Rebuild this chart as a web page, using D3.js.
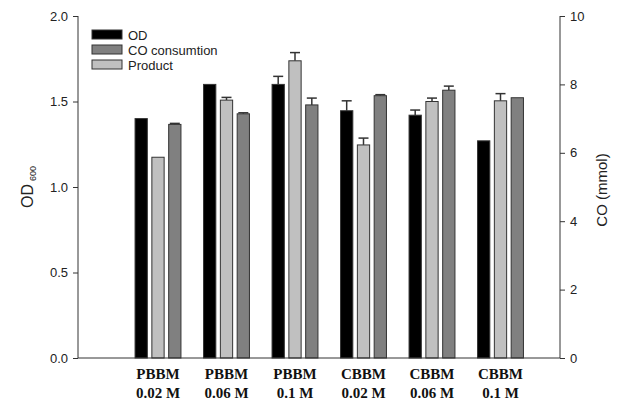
<!DOCTYPE html>
<html><head><meta charset="utf-8">
<script src="https://cdn.jsdelivr.net/npm/d3@7"></script>
<style>body{margin:0;background:#fff}svg{display:block}</style>
</head><body>
<svg id="c" width="623" height="400"></svg>
<script>
const groupLine1 = ["PBBM","PBBM","PBBM","CBBM","CBBM","CBBM"];
const groupLine2 = ["0.02 M","0.06 M","0.1 M","0.02 M","0.06 M","0.1 M"];
const odValues = [1.40, 1.60, 1.60, 1.446, 1.42, 1.27];
const odErrors = [0, 0, 0.047, 0.058, 0.03, 0];
const productValues = [5.87, 7.54, 8.69, 6.23, 7.50, 7.52];
const productErrors = [0, 0.08, 0.24, 0.2, 0.1, 0.21];
const coValues = [6.83, 7.14, 7.40, 7.67, 7.83, 7.61];
const coErrors = [0.03, 0.03, 0.2, 0.03, 0.12, 0];
const leftTicks = [0, 0.5, 1.0, 1.5, 2.0];
const rightTicks = [0, 2, 4, 6, 8, 10];
const legendNames = ["OD", "CO consumtion", "Product"];

(function(){
const svg = d3.select("#c");
const mL = 78, mR = 560, mT = 16, mB = 358;
const yL = d3.scaleLinear().domain([0, 2]).range([mB, mT]);
const yR = d3.scaleLinear().domain([0, 10]).range([mB, mT]);
const x = d3.scaleBand().domain(d3.range(6)).range([123.75, 534.75]).paddingInner(0.33).paddingOuter(0.165);
const sub = d3.scaleBand().domain([0,1,2]).range([0, x.bandwidth()]).paddingInner(0.27);

const series = [
  {vals: odValues, errs: odErrors, y: yL, fill: "#000000"},
  {vals: productValues, errs: productErrors, y: yR, fill: "#c0c0c0"},
  {vals: coValues, errs: coErrors, y: yR, fill: "#808080"}
];

series.forEach((s, si) => {
  const g = svg.append("g");
  s.vals.forEach((v, i) => {
    const bx = x(i) + sub(si), bw = sub.bandwidth();
    const yt = s.y(v);
    if (s.errs[i] > 0) {
      const ye = s.y(v + s.errs[i]);
      g.append("line").attr("x1", bx + bw/2).attr("x2", bx + bw/2).attr("y1", yt).attr("y2", ye)
        .attr("stroke", "#333").attr("stroke-width", 1.5);
      g.append("line").attr("x1", bx + bw/2 - 5).attr("x2", bx + bw/2 + 5).attr("y1", ye).attr("y2", ye)
        .attr("stroke", "#333").attr("stroke-width", 1.5);
    }
    g.append("rect").attr("x", bx).attr("y", yt).attr("width", bw).attr("height", mB - yt)
      .attr("fill", s.fill).attr("stroke", "#333").attr("stroke-width", 1);
  });
});

const axL = svg.append("g").attr("transform", `translate(${mL},0)`)
  .call(d3.axisLeft(yL).tickValues(leftTicks).tickFormat(d3.format(".1f")).tickSize(5).tickPadding(5));
const axR = svg.append("g").attr("transform", `translate(${mR},0)`)
  .call(d3.axisRight(yR).tickValues(rightTicks).tickFormat(d3.format("d")).tickSize(5).tickPadding(5));
[axL, axR].forEach(a => {
  a.select(".domain").attr("stroke", "#333").attr("d", `M0,${mT}V${mB}`);
  a.selectAll(".tick line").attr("stroke", "#333");
  a.selectAll(".tick text").attr("fill", "#222").style("font-family", "Arial, 'Liberation Sans', sans-serif").style("font-size", "13px");
});
svg.append("line").attr("x1", mL).attr("x2", mR).attr("y1", mB).attr("y2", mB).attr("stroke", "#333");

const xl = svg.append("g");
d3.range(6).forEach(i => {
  const cx = x(i) + x.bandwidth()/2;
  const t = xl.append("text").attr("x", cx).attr("text-anchor", "middle")
    .style("font-family", "'Liberation Serif', 'Times New Roman', serif").style("font-weight", "bold").style("font-size", "15px").attr("fill", "#111");
  t.append("tspan").attr("x", cx).attr("y", 379).text(groupLine1[i]);
  t.append("tspan").attr("x", cx).attr("y", 398).text(groupLine2[i]);
});

const lt = svg.append("text").attr("transform", "translate(33,187) rotate(-90)").attr("text-anchor", "middle")
  .style("font-family", "Arial, 'Liberation Sans', sans-serif").style("font-size", "16px").attr("fill", "#222");
lt.append("tspan").text("OD");
lt.append("tspan").attr("dx", 3).attr("dy", 3).style("font-size", "9px").text("600");
svg.append("text").attr("transform", "translate(607,190) rotate(-90)").attr("text-anchor", "middle")
  .style("font-family", "Arial, 'Liberation Sans', sans-serif").style("font-size", "15px").attr("fill", "#222").text("CO (mmol)");

const legFills = ["#000000", "#808080", "#c0c0c0"];
legendNames.forEach((n, i) => {
  const ly = 30 + i * 15;
  svg.append("rect").attr("x", 92).attr("y", ly).attr("width", 30).attr("height", 9)
    .attr("fill", legFills[i]).attr("stroke", "#333");
  svg.append("text").attr("x", 128).attr("y", ly + 10).text(n)
    .style("font-family", "Arial, 'Liberation Sans', sans-serif").style("font-size", "13px").attr("fill", "#222");
});
})();
</script>
</body></html>
